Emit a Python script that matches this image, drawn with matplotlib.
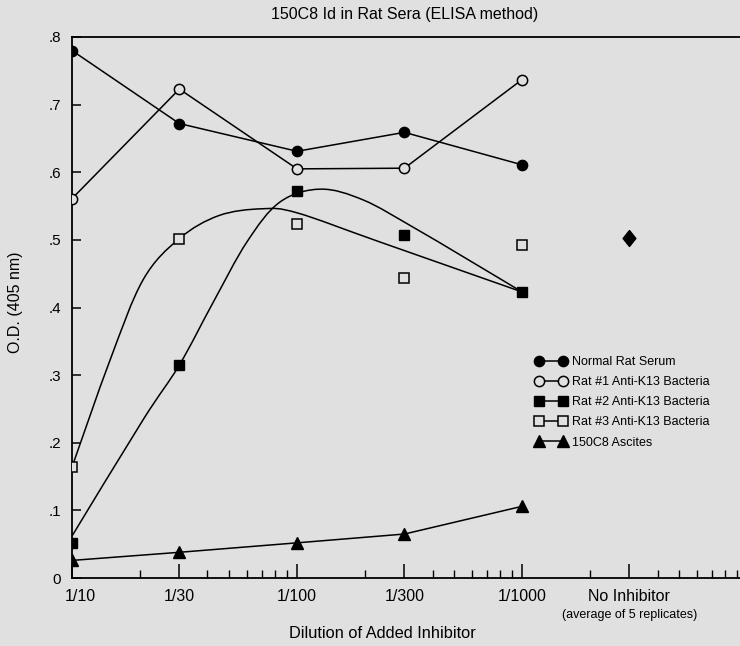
import numpy as np
import matplotlib.pyplot as plt
from matplotlib.path import Path
from matplotlib.patches import PathPatch
from matplotlib.lines import Line2D
from matplotlib.ticker import FixedLocator, FixedFormatter, NullFormatter
from matplotlib.transforms import ScaledTranslation

plt.rcParams['font.family'] = ['Liberation Sans', 'DejaVu Sans']

BG = '#e0e0e0'

# dilution factor of the added inhibitor (1/x)
dilutions = [10, 30, 100, 300, 1000]
tick_pos = [10, 30, 100, 300, 1000, 3000]
tick_labels = ['1/10', '1/30', '1/100', '1/300', '1/1000', 'No Inhibitor']
minor_pos = [20, 40, 50, 60, 70, 80, 90, 200, 400, 500, 600, 700, 800, 900,
             2000, 4000, 5000, 6000, 7000, 8000, 9000]
y_ticks = [0, 0.1, 0.2, 0.3, 0.4, 0.5, 0.6, 0.7, 0.8]
y_labels = ['0', '.1', '.2', '.3', '.4', '.5', '.6', '.7', '.8']

normal_serum = [0.78, 0.672, 0.631, 0.659, 0.611]
rat1 = [0.561, 0.723, 0.605, 0.606, 0.737]
rat2 = [0.052, 0.315, 0.572, 0.507, 0.423]
rat3 = [0.164, 0.502, 0.524, 0.444, 0.492]
ascites = [0.026, 0.038, 0.052, 0.065, 0.106]

no_inhib_x = 3000
no_inhib_y = 0.503

# hand drawn fit curves
rat2_fit_x = [10, 20.7, 30, 42.3, 59.9, 84, 127, 197, 327, 548, 1000]
rat2_fit_y = [0.062, 0.234, 0.315, 0.407, 0.497, 0.556, 0.575, 0.559, 0.519, 0.475, 0.423]
rat3_fit_x = [10, 14.75, 20.7, 30, 45, 70, 100, 233, 1000]
rat3_fit_y = [0.164, 0.322, 0.441, 0.502, 0.536, 0.546, 0.540, 0.497, 0.423]


def smooth_path(xs, ys):
    # catmull-rom through the traced points, as cubic bezier segments in log-x space
    p = np.column_stack([np.log10(xs), ys])
    p = np.vstack([p[0], p, p[-1]])
    verts = [p[1]]
    codes = [Path.MOVETO]
    for i in range(1, len(p) - 2):
        c1 = p[i] + (p[i + 1] - p[i - 1]) / 6
        c2 = p[i + 1] - (p[i + 2] - p[i]) / 6
        verts += [c1, c2, p[i + 1]]
        codes += [Path.CURVE4] * 3
    verts = np.array(verts)
    verts[:, 0] = 10 ** verts[:, 0]
    return Path(verts, codes)


fig = plt.figure(figsize=(7.4, 6.46), dpi=100, facecolor=BG)
ax = fig.add_axes([72 / 740, 68 / 646, 668 / 740, 541 / 646])
ax.set_facecolor(BG)
ax.set_xscale('log')
ax.set_xlim(10, 9300)
ax.set_ylim(0, 0.8)

lw = 1.1
ms_c = 7.4
ax.plot(dilutions, normal_serum, '-o', color='black', lw=lw, ms=ms_c,
        mfc='black', mec='black', zorder=4)
ax.plot(dilutions, rat1, '-o', color='black', lw=lw, ms=ms_c,
        mfc=BG, mec='black', mew=1.1, zorder=4)
ax.plot(dilutions, ascites, '-^', color='black', lw=lw, ms=8.5,
        mfc='black', mec='black', zorder=4)

for xs, ys in [(rat2_fit_x, rat2_fit_y), (rat3_fit_x, rat3_fit_y)]:
    ax.add_patch(PathPatch(smooth_path(xs, ys), fill=False, ec='black', lw=lw,
                           transform=ax.transData, zorder=3))

ax.plot(dilutions, rat3, 's', ms=6.5, mfc=BG, mec='black', mew=1.1, zorder=5)
ax.plot(dilutions, rat2, 's', ms=6.8, mfc='black', mec='black', zorder=5)

diamond = [(0, 1), (0.8, 0), (0, -1), (-0.8, 0), (0, 1)]
ax.plot([no_inhib_x], [no_inhib_y], marker=diamond, ms=11.5, color='black', ls='none')

# axes styling
for s in ['left', 'bottom', 'top']:
    ax.spines[s].set_linewidth(1.3)
ax.spines['right'].set_visible(False)

ax.xaxis.set_major_locator(FixedLocator(tick_pos))
ax.xaxis.set_major_formatter(FixedFormatter(tick_labels))
ax.xaxis.set_minor_locator(FixedLocator(minor_pos))
ax.xaxis.set_minor_formatter(NullFormatter())
ax.tick_params(axis='x', which='major', direction='in', length=10, width=1.1,
               labelsize=11.5, pad=8)
ax.tick_params(axis='x', which='minor', direction='in', length=5.5, width=1.0)
ax.set_yticks(y_ticks)
ax.set_yticklabels(y_labels)
ax.tick_params(axis='y', direction='in', length=6.5, width=1.1, labelsize=11, pad=8)
ax.tick_params(top=False, right=False)

# first x label sits a little right of its tick
first = ax.get_xticklabels()[0]
first.set_transform(first.get_transform() + ScaledTranslation(8 / 100, 0, fig.dpi_scale_trans))

fig.text(405 / 740, 1 - 14 / 646, '150C8 Id in Rat Sera (ELISA method)',
         ha='center', va='center', fontsize=11.5)
fig.text(382 / 740, 1 - 633 / 646, 'Dilution of Added Inhibitor',
         ha='center', va='center', fontsize=11.8)
fig.text(16 / 740, 1 - 302 / 646, 'O.D. (405 nm)', rotation=90,
         ha='center', va='center', fontsize=11.5)
fig.text(630 / 740, 1 - 615 / 646, '(average of 5 replicates)',
         ha='center', va='center', fontsize=9)

handles = [
    Line2D([], [], color='black', lw=lw, marker='o', ms=ms_c, mfc='black', mec='black'),
    Line2D([], [], color='black', lw=lw, marker='o', ms=ms_c, mfc=BG, mec='black', mew=1.1),
    Line2D([], [], color='black', lw=lw, marker='s', ms=7, mfc='black', mec='black'),
    Line2D([], [], color='black', lw=lw, marker='s', ms=7, mfc=BG, mec='black', mew=1.1),
    Line2D([], [], color='black', lw=lw, marker='^', ms=8.5, mfc='black', mec='black'),
]
labels = ['Normal Rat Serum', 'Rat #1 Anti-K13 Bacteria', 'Rat #2 Anti-K13 Bacteria',
          'Rat #3 Anti-K13 Bacteria', '150C8 Ascites']
fig.legend(handles, labels, loc='upper left', bbox_to_anchor=(535 / 740, 1 - 356 / 646),
           numpoints=2, frameon=False, fontsize=9, handlelength=2.54,
           handletextpad=0.42, labelspacing=0.65, borderpad=0, borderaxespad=0)

fig.savefig('out.png', dpi=100, facecolor=BG)
